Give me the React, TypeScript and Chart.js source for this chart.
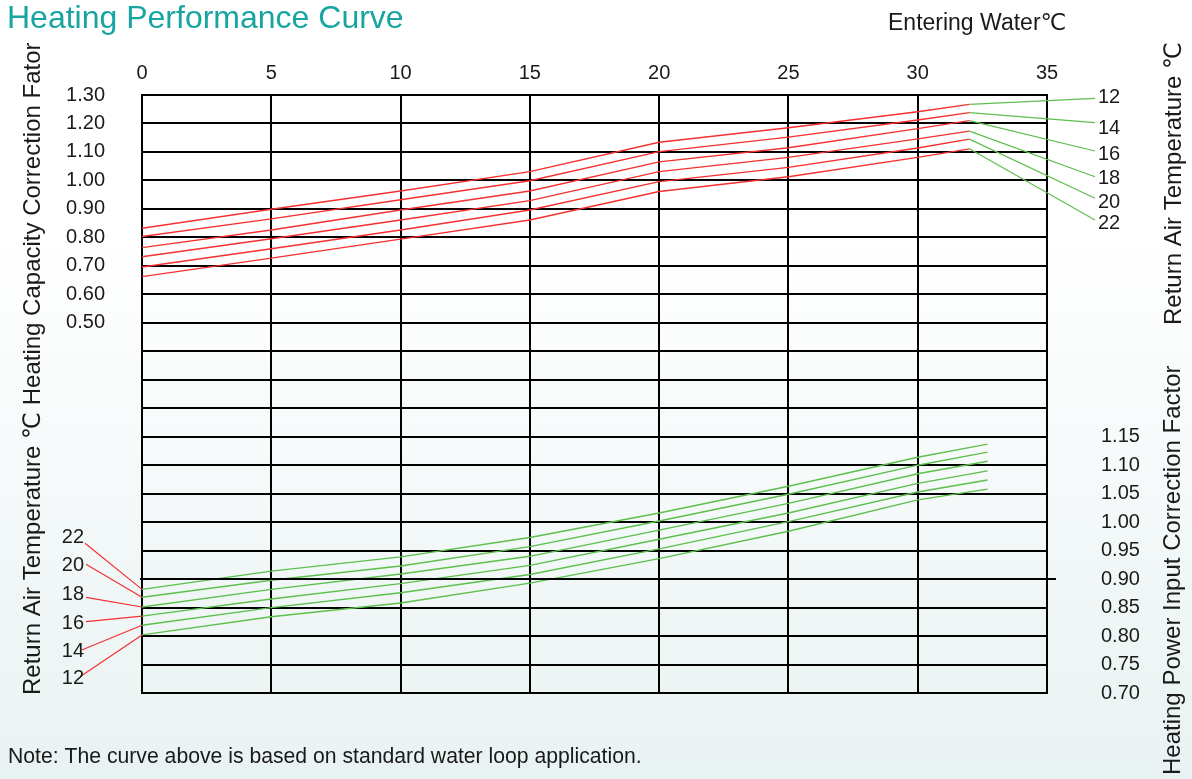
import React, { useEffect, useRef } from "react";
import { Chart, registerables } from "chart.js";

Chart.register(...registerables);

// ---------- data ----------
const returnAirTemps = ["12", "14", "16", "18", "20", "22"];

// Heating capacity correction factor (left axis), red curves
const capacityWater = [0, 5, 10, 15, 20, 25, 30, 32];
const capacity12 = [0.832, 0.899, 0.963, 1.031, 1.134, 1.185, 1.241, 1.267];
const capacity14 = [0.803, 0.865, 0.932, 0.999, 1.101, 1.152, 1.212, 1.238];
const capacity16 = [0.764, 0.826, 0.896, 0.963, 1.065, 1.115, 1.182, 1.21];
const capacity18 = [0.732, 0.795, 0.861, 0.929, 1.031, 1.081, 1.146, 1.173];
const capacity20 = [0.696, 0.76, 0.826, 0.896, 0.996, 1.046, 1.114, 1.145];
const capacity22 = [0.662, 0.727, 0.794, 0.861, 0.961, 1.013, 1.081, 1.111];

// Heating power input correction factor (right axis), green curves
const powerWater = [0, 5, 10, 15, 20, 25, 30, 32.7];
const power12 = [0.802, 0.834, 0.858, 0.893, 0.936, 0.984, 1.039, 1.058];
const power14 = [0.819, 0.85, 0.876, 0.908, 0.953, 1.001, 1.053, 1.074];
const power16 = [0.835, 0.865, 0.892, 0.924, 0.97, 1.016, 1.068, 1.09];
const power18 = [0.851, 0.882, 0.909, 0.94, 0.986, 1.033, 1.085, 1.107];
const power20 = [0.868, 0.898, 0.923, 0.957, 1.002, 1.049, 1.1, 1.123];
const power22 = [0.882, 0.914, 0.939, 0.973, 1.016, 1.063, 1.114, 1.137];

// axes
const waterMin = 0;
const waterMax = 35;
const waterStep = 5;
const capMin = -0.8;
const capMax = 1.3;
const capStep = 0.1;
const capLabelFrom = 0.5;
const powMin = 0.7;
const powMax = 1.75;
const powStep = 0.05;
const powLabelTo = 1.15;
const powMarkedLine = 0.9;

const TITLE = "Heating Performance Curve";
const X_TITLE = "Entering Water℃";
const LEFT_TITLE = "Return Air Temperature ℃ Heating Capacity Correction Fator";
const RIGHT_TITLE_TOP = "Return Air Temperature ℃";
const RIGHT_TITLE_BOTTOM = "Heating Power Input Correction Factor";
const NOTE = "Note: The curve above is based on standard water loop application.";

const capacitySeries = [capacity12, capacity14, capacity16, capacity18, capacity20, capacity22];
const powerSeries = [power12, power14, power16, power18, power20, power22];

// ---------- styling / layout ----------
const W = 1192;
const H = 779;
const RED = "#f5302f";
const GREEN = "#5dbf4c";
const TEAL = "#17a5a2";
const FONT = '"Liberation Sans", Arial, "DejaVu Sans", sans-serif';

// label placement (pixels) for the curve-name labels
const rightLabelX = 1098;
const rightLabelY = [97.5, 128, 154, 178.5, 202.5, 223];
const rightLeaderEnd = [98.3, 122.7, 151, 176.7, 198.3, 220];
const rightLeaderX = 1095;
const leftLabelRight = 84;
const leftLabelY = [678.7, 651.5, 623.5, 594, 565, 537];
const leftLeaderStart = [
  [80, 676.7],
  [81.7, 650],
  [86, 621.7],
  [86, 597.3],
  [86, 564.3],
  [85, 543.3],
];

const overlay = {
  id: "overlay",
  afterDraw(chart: any) {
    const { ctx, chartArea, scales } = chart;
    const x = scales.x;
    const y = scales.y;
    const y2 = scales.y2;
    ctx.save();

    // extended 0.90 line
    ctx.strokeStyle = "#000";
    ctx.lineWidth = 2;
    const py90 = Math.round(y2.getPixelForValue(powMarkedLine));
    ctx.beginPath();
    ctx.moveTo(chartArea.left - 2, py90);
    ctx.lineTo(chartArea.right + 9, py90);
    ctx.stroke();

    // leaders right (green, from red curve ends)
    ctx.lineWidth = 1.2;
    ctx.strokeStyle = GREEN;
    capacitySeries.forEach((s, i) => {
      const n = s.length - 1;
      ctx.beginPath();
      ctx.moveTo(x.getPixelForValue(capacityWater[n]), y.getPixelForValue(s[n]));
      ctx.lineTo(rightLeaderX, rightLeaderEnd[i]);
      ctx.stroke();
    });
    // leaders left (red, to green curve starts)
    ctx.strokeStyle = RED;
    powerSeries.forEach((s, i) => {
      ctx.beginPath();
      ctx.moveTo(leftLeaderStart[i][0], leftLeaderStart[i][1]);
      ctx.lineTo(x.getPixelForValue(powerWater[0]), y2.getPixelForValue(s[0]));
      ctx.stroke();
    });

    // curve labels
    ctx.fillStyle = "#1a1a1a";
    ctx.font = `20px ${FONT}`;
    ctx.textBaseline = "middle";
    ctx.textAlign = "left";
    returnAirTemps.forEach((t, i) => ctx.fillText(t, rightLabelX, rightLabelY[i]));
    ctx.textAlign = "right";
    returnAirTemps.forEach((t, i) => ctx.fillText(t, leftLabelRight, leftLabelY[i]));

    // title
    ctx.textBaseline = "alphabetic";
    ctx.textAlign = "left";
    ctx.fillStyle = TEAL;
    ctx.font = `32px ${FONT}`;
    ctx.fillText(TITLE, 7, 28);

    ctx.fillStyle = "#1a1a1a";
    ctx.font = `23px ${FONT}`;
    ctx.fillText(X_TITLE, 888, 30);

    ctx.font = `21.2px ${FONT}`;
    ctx.fillText(NOTE, 8, 763);

    // rotated titles
    ctx.font = `24px ${FONT}`;
    const rot = (text: string, bx: number, by: number) => {
      ctx.save();
      ctx.translate(bx, by);
      ctx.rotate(-Math.PI / 2);
      ctx.fillText(text, 0, 0);
      ctx.restore();
    };
    rot(LEFT_TITLE, 40, 695);
    rot(RIGHT_TITLE_TOP, 1181, 325);
    rot(RIGHT_TITLE_BOTTOM, 1180, 775);

    ctx.restore();
  },
};

export default function App() {
  const ref = useRef<HTMLCanvasElement>(null);

  useEffect(() => {
    if (!ref.current) return;
    const red = capacitySeries.map((s, i) => ({
      label: `Capacity ${returnAirTemps[i]}`,
      data: s.map((v, j) => ({ x: capacityWater[j], y: v })),
      yAxisID: "y",
      borderColor: RED,
      borderWidth: 1.4,
      pointRadius: 0,
      tension: 0,
      fill: false,
    }));
    const green = powerSeries.map((s, i) => ({
      label: `Power ${returnAirTemps[i]}`,
      data: s.map((v, j) => ({ x: powerWater[j], y: v })),
      yAxisID: "y2",
      borderColor: GREEN,
      borderWidth: 1.4,
      pointRadius: 0,
      tension: 0,
      fill: false,
    }));

    const tickFont = { family: FONT, size: 20 };
    const chart = new Chart(ref.current, {
      type: "line",
      data: { datasets: [...red, ...green] as any },
      plugins: [overlay],
      options: {
        animation: false,
        responsive: false,
        devicePixelRatio: 1,
        events: [],
        layout: { padding: { top: 0, left: 0, right: 0, bottom: 86 } },
        plugins: { legend: { display: false }, tooltip: { enabled: false }, title: { display: false } },
        scales: {
          x: {
            type: "linear",
            position: "top",
            min: waterMin,
            max: waterMax,
            afterFit: (s: any) => {
              s.height = 95;
            },
            ticks: { stepSize: waterStep, color: "#1a1a1a", font: tickFont, padding: 10, autoSkip: false, maxRotation: 0 },
            grid: { color: "#000", lineWidth: 2, drawTicks: false },
            border: { color: "#000", width: 2 },
          },
          y: {
            type: "linear",
            position: "left",
            min: capMin,
            max: capMax,
            afterFit: (s: any) => {
              s.width = 142;
            },
            ticks: {
              stepSize: capStep,
              autoSkip: false,
              color: "#1a1a1a",
              font: tickFont,
              padding: 37,
              callback: (v: any) => (v >= capLabelFrom - 0.001 ? Number(v).toFixed(2) : ""),
            },
            grid: { color: "#000", lineWidth: 2, drawTicks: false },
            border: { color: "#000", width: 2 },
          },
          y2: {
            type: "linear",
            position: "right",
            min: powMin,
            max: powMax,
            afterFit: (s: any) => {
              s.width = 145;
            },
            ticks: {
              stepSize: powStep,
              autoSkip: false,
              color: "#1a1a1a",
              font: tickFont,
              padding: 54,
              callback: (v: any) => (v <= powLabelTo + 0.001 ? Number(v).toFixed(2) : ""),
            },
            grid: { display: false, drawTicks: false },
            border: { color: "#000", width: 2 },
          },
        },
      },
    });
    return () => chart.destroy();
  }, []);

  return (
    <div
      style={{
        position: "fixed",
        left: 0,
        top: 0,
        width: W,
        height: H,
        background: "linear-gradient(180deg, #ffffff 0%, #ffffff 30%, #e9f2f2 100%)",
      }}
    >
      <canvas ref={ref} width={W} height={H} style={{ display: "block", width: W, height: H }} />
    </div>
  );
}
